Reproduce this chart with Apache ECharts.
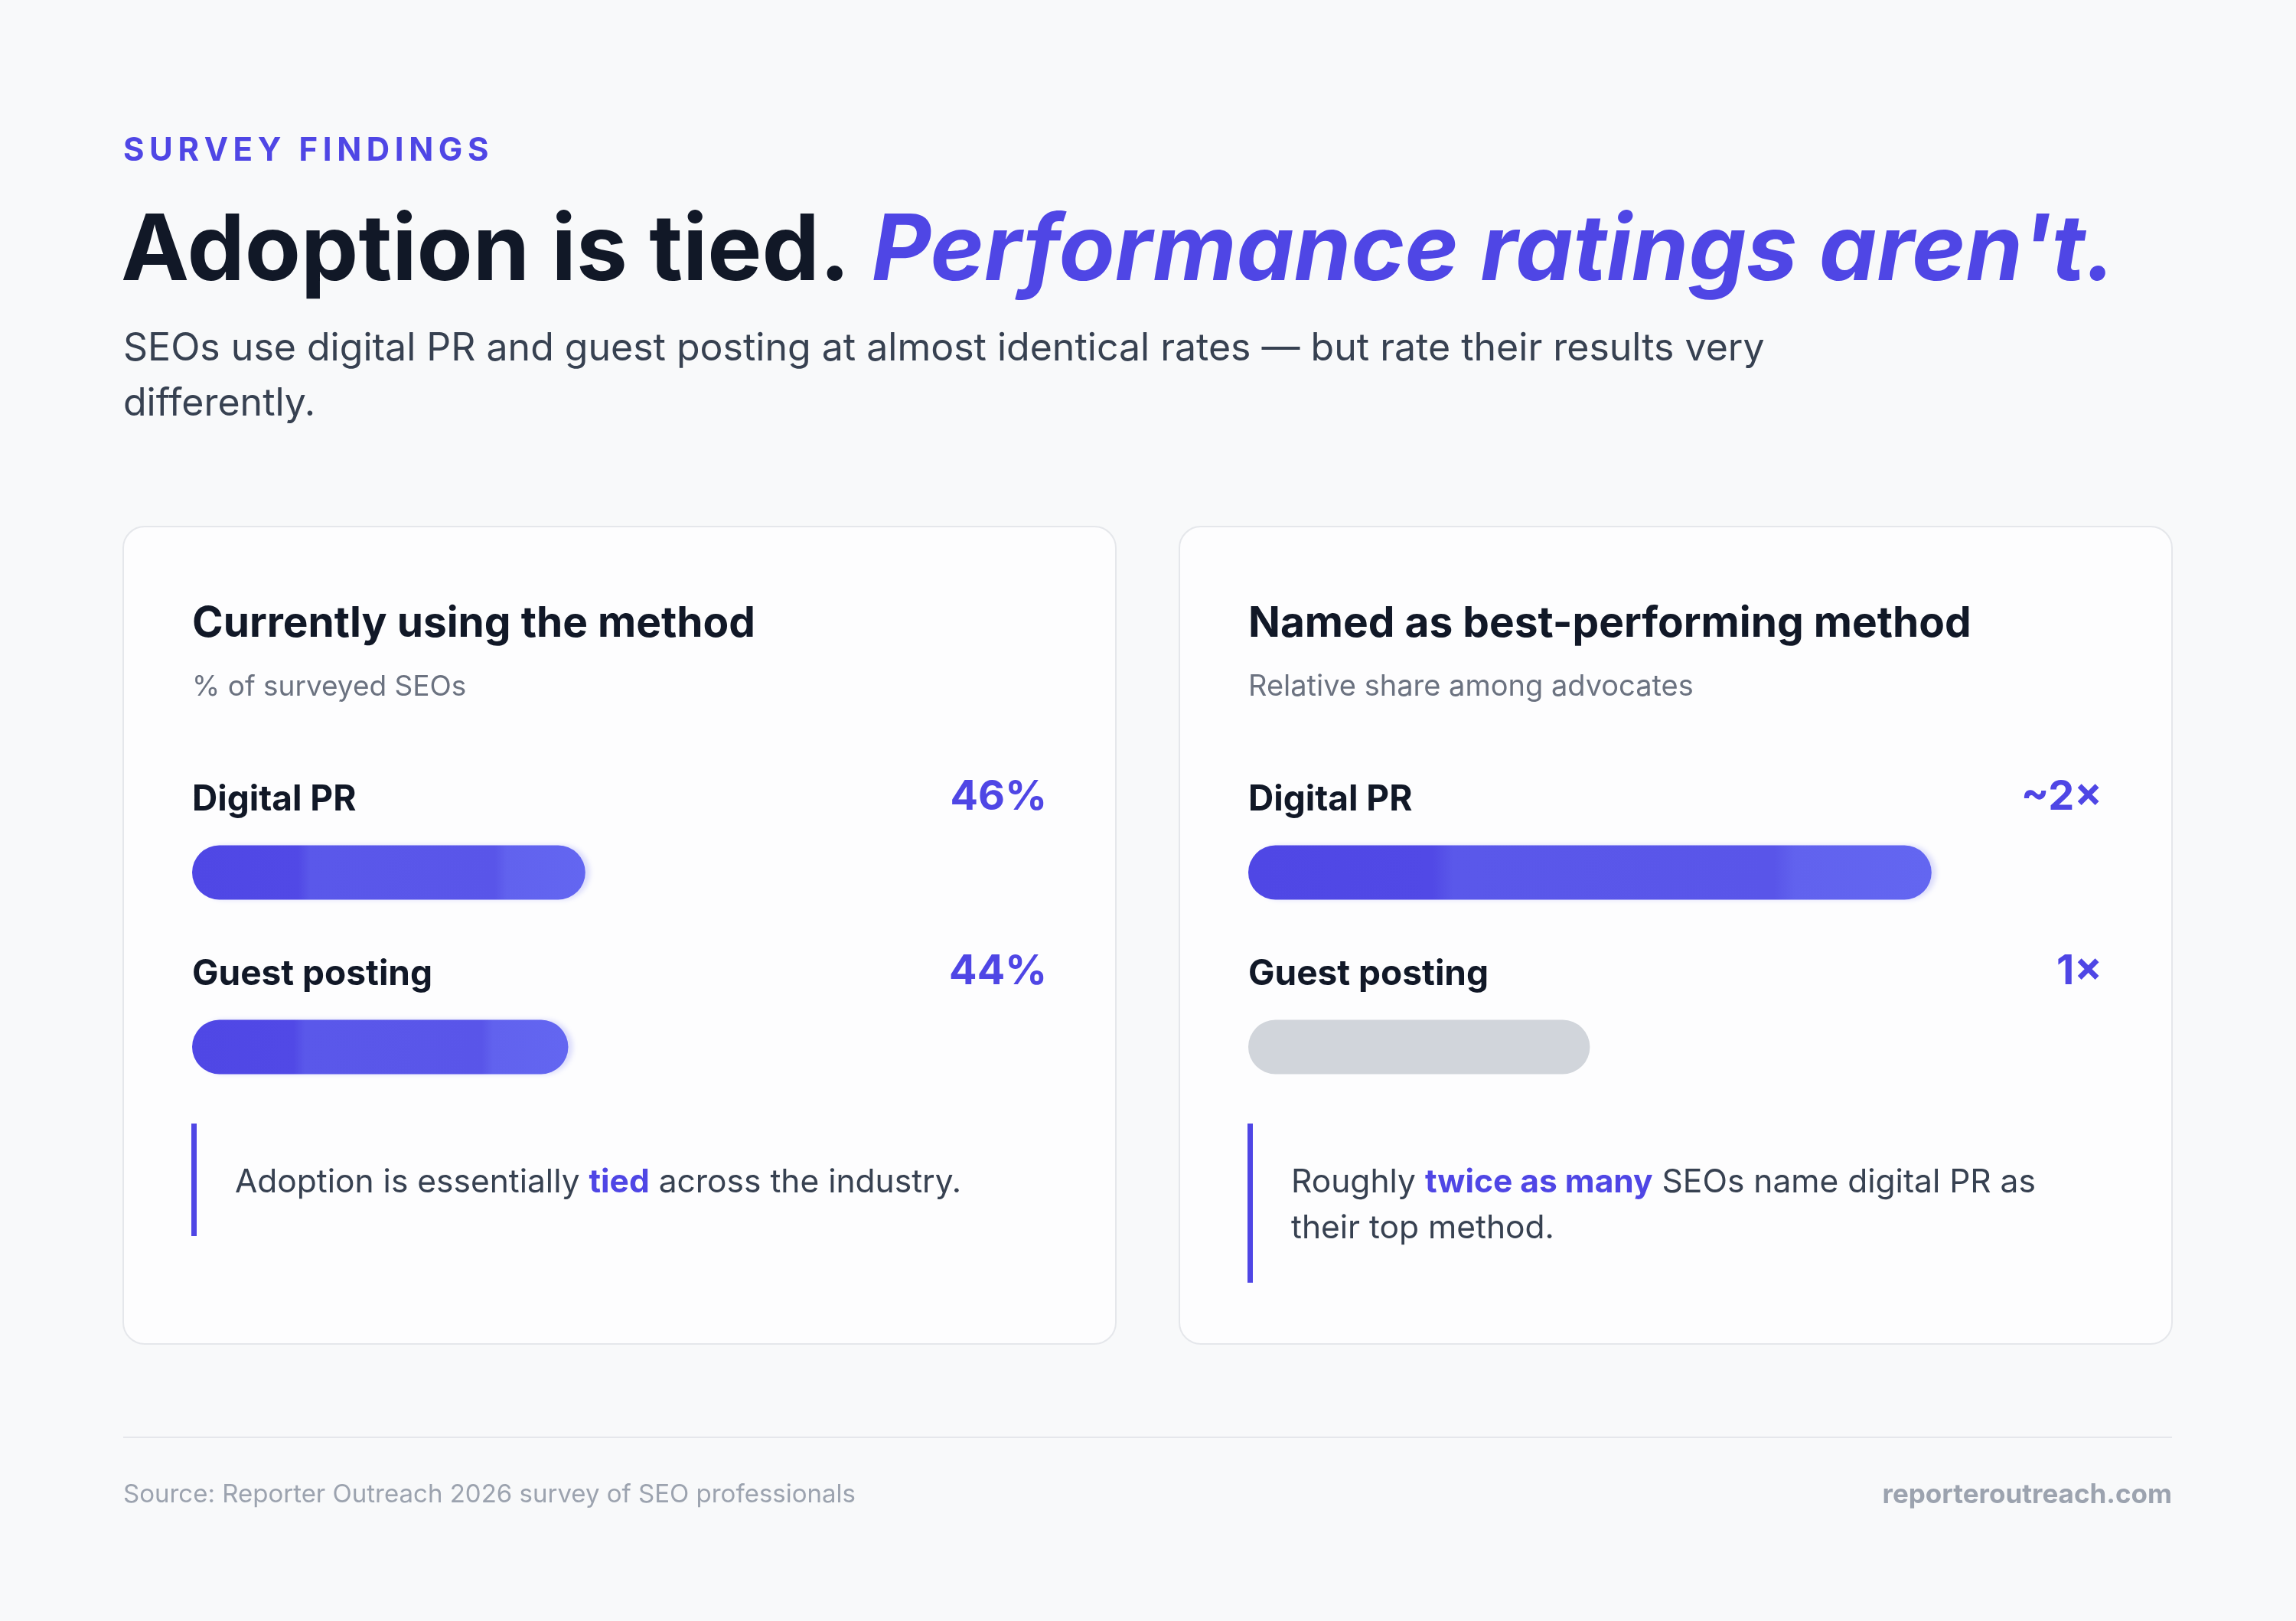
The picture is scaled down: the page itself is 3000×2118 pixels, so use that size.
<!DOCTYPE html>
<html>
<head>
<meta charset="utf-8">
<title>Survey findings</title>
<script src="https://cdn.jsdelivr.net/npm/echarts@6/dist/echarts.min.js"></script>
<style>
  html, body { margin: 0; padding: 0; background: #f8f9fa; }
  #main { width: 3000px; height: 2118px; }
</style>
</head>
<body>
<div id="main"></div>
<script>
// data
const methods = ['Digital PR', 'Guest posting'];
const usingPct = [46, 44];
const usingLabels = ['46%', '44%'];
const bestRelative = [2, 1];
const bestLabels = ['~2×', '1×'];
const usingMax = 100;
const bestMax = 2.5;

const FONT = 'Inter, "Noto Sans", sans-serif';
const INDIGO = '#4f46e5';
const DARK = '#111827';

var myChart = echarts.init(document.getElementById('main'), null, { renderer: 'canvas' });

// banded indigo fill, as in the original
function barGradient() {
  return new echarts.graphic.LinearGradient(0, 0, 1, 0, [
    { offset: 0, color: '#4f47e5' },
    { offset: 0.27, color: '#5149e6' },
    { offset: 0.30, color: '#5a58ea' },
    { offset: 0.77, color: '#5955e9' },
    { offset: 0.80, color: '#6162ee' },
    { offset: 1, color: '#6366f1' }
  ]);
}

// one grid per card: a transparent full-width "track" carries the value label,
// the real bar carries the method name above it
function cardSeries(idx, values, labels, max, grayIdx) {
  return [
    {
      type: 'bar',
      xAxisIndex: idx, yAxisIndex: idx,
      data: methods.map(() => max),
      barWidth: 71,
      barGap: '-100%',
      silent: true,
      itemStyle: { color: 'rgba(0,0,0,0)' },
      label: {
        show: true,
        position: ['100%', -63],
        align: 'right',
        verticalAlign: 'middle',
        formatter: p => labels[p.dataIndex],
        fontFamily: FONT, fontSize: 54, fontWeight: 'bold', color: INDIGO
      },
      z: 1
    },
    {
      type: 'bar',
      xAxisIndex: idx, yAxisIndex: idx,
      barWidth: 71,
      barGap: '-100%',
      data: values.map((v, i) => ({
        value: v,
        itemStyle: i === grayIdx
          ? { color: '#d1d5db', borderRadius: 36 }
          : { color: barGradient(), borderRadius: 36,
              shadowColor: 'rgba(99,102,241,0.22)', shadowBlur: 6, shadowOffsetX: 6 }
      })),
      label: {
        show: true,
        position: [0, -59],
        align: 'left',
        verticalAlign: 'middle',
        formatter: p => methods[p.dataIndex],
        fontFamily: FONT, fontSize: 46, fontWeight: 'bold', color: DARK
      },
      z: 2
    }
  ];
}

var richNote = {
  a: { fontFamily: FONT, fontSize: 42.5, fill: '#374151', lineHeight: 60 },
  b: { fontFamily: FONT, fontSize: 42.5, fill: INDIGO, fontWeight: 'bold', lineHeight: 60 }
};

var option = {
  backgroundColor: '#f8f9fa',
  animation: false,
  grid: [
    { left: 251, width: 1117, top: 1026, height: 456 },
    { left: 1631, width: 1116, top: 1026, height: 456 }
  ],
  xAxis: [
    { type: 'value', gridIndex: 0, min: 0, max: usingMax, show: false },
    { type: 'value', gridIndex: 1, min: 0, max: bestMax, show: false }
  ],
  yAxis: [
    { type: 'category', gridIndex: 0, data: methods, inverse: true, show: false },
    { type: 'category', gridIndex: 1, data: methods, inverse: true, show: false }
  ],
  series: [].concat(
    cardSeries(0, usingPct, usingLabels, usingMax, -1),
    cardSeries(1, bestRelative, bestLabels, bestMax, 1)
  ),
  graphic: [
    // cards
    { type: 'rect', shape: { x: 161, y: 688, width: 1297, height: 1068, r: 28 },
      style: { fill: '#fdfdfe', stroke: '#e5e7eb', lineWidth: 2 }, z: -10 },
    { type: 'rect', shape: { x: 1541, y: 688, width: 1297, height: 1068, r: 28 },
      style: { fill: '#fdfdfe', stroke: '#e5e7eb', lineWidth: 2 }, z: -10 },
    // header
    { type: 'text', x: 161, y: 197,
      style: { text: 'S\u2009U\u2009R\u2009V\u2009E\u2009Y\u2009 \u2009F\u2009I\u2009N\u2009D\u2009I\u2009N\u2009G\u2009S',
        font: 'bold 42px ' + FONT, fill: INDIGO, textVerticalAlign: 'middle' } },
    { type: 'text', x: 158, y: 330,
      style: {
        text: '{a|Adoption is tied. }{b|Performance ratings aren\'t.}',
        textVerticalAlign: 'middle',
        rich: {
          a: { fontFamily: FONT, fontSize: 119.5, fontWeight: 'bold', fill: DARK },
          b: { fontFamily: FONT, fontSize: 119.5, fontWeight: 'bold', fontStyle: 'italic', fill: INDIGO }
        }
      } },
    { type: 'text', x: 161, y: 420,
      style: { text: 'SEOs use digital PR and guest posting at almost identical rates \u2014 but rate their results very\ndifferently.',
        font: '50px ' + FONT, fill: '#374151', lineHeight: 72, textVerticalAlign: 'top' } },
    // card titles
    { type: 'text', x: 251, y: 815,
      style: { text: 'Currently using the method', font: 'bold 55px ' + FONT, fill: DARK, textVerticalAlign: 'middle' } },
    { type: 'text', x: 251, y: 898,
      style: { text: '% of surveyed SEOs', font: '37px ' + FONT, fill: '#6b7280', textVerticalAlign: 'middle' } },
    { type: 'text', x: 1631, y: 815,
      style: { text: 'Named as best-performing method', font: 'bold 55px ' + FONT, fill: DARK, textVerticalAlign: 'middle' } },
    { type: 'text', x: 1631, y: 898,
      style: { text: 'Relative share among advocates', font: '38px ' + FONT, fill: '#6b7280', textVerticalAlign: 'middle' } },
    // notes
    { type: 'rect', shape: { x: 250, y: 1468, width: 7, height: 147 }, style: { fill: INDIGO } },
    { type: 'text', x: 307, y: 1545,
      style: { text: '{a|Adoption is essentially }{b|tied}{a| across the industry.}', rich: richNote, textVerticalAlign: 'middle' } },
    { type: 'rect', shape: { x: 1630, y: 1468, width: 7, height: 208 }, style: { fill: INDIGO } },
    { type: 'text', x: 1687, y: 1515,
      style: { text: '{a|Roughly }{b|twice as many}{a| SEOs name digital PR as}\n{a|their top method.}', rich: richNote, textVerticalAlign: 'top' } },
    // footer
    { type: 'rect', shape: { x: 161, y: 1877, width: 2677, height: 2 }, style: { fill: '#e5e7eb' } },
    { type: 'text', x: 161, y: 1953,
      style: { text: 'Source: Reporter Outreach 2026 survey of SEO professionals', font: '33px ' + FONT, fill: '#9ca3af', textVerticalAlign: 'middle' } },
    { type: 'text', x: 2838, y: 1953,
      style: { text: 'reporteroutreach.com', font: 'bold 35px ' + FONT, fill: '#9ca3af', textAlign: 'right', textVerticalAlign: 'middle' } }
  ]
};

myChart.setOption(option);
window.addEventListener('resize', () => {
  myChart.resize();
});
</script>
</body>
</html>
